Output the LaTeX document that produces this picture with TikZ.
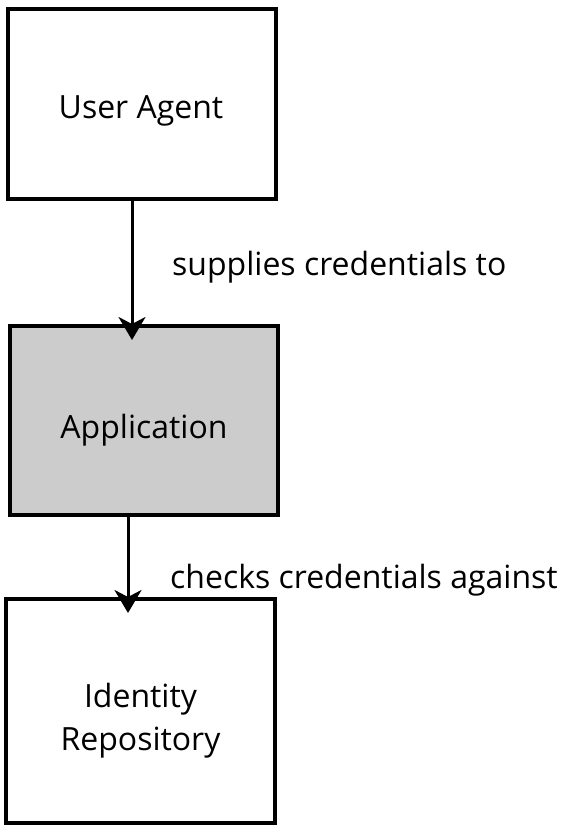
\documentclass[tikz,border=0pt]{standalone}
\usepackage{fontspec}
\setmainfont{Open Sans}
\usetikzlibrary{arrows.meta}
\begin{document}
\begin{tikzpicture}[x=1pt,y=-1pt,
  every node/.style={font=\fontsize{32}{43}\selectfont},
  box/.style={draw=black,line width=3.5pt,inner sep=0pt},
  txt/.style={inner sep=0pt,align=center},
  conn/.style={line width=3pt,-{Stealth[length=23pt,width=27pt,inset=7pt]},shorten >=-14pt},
  lbl/.style={anchor=base west,inner sep=0pt}]
\useasboundingbox (0,0) rectangle (563,825);
\node[box,minimum width=268pt,minimum height=190pt] (ua) at (142,104) {};
\node[box,fill=black!20,minimum width=268pt,minimum height=189pt] (app) at (144,420.5) {};
\node[box,minimum width=269pt,minimum height=224pt] (ir) at (140.5,711) {};
\node[txt,anchor=base] (uat) at (141,118) {User Agent};
\node[txt,anchor=base] (appt) at (144,438) {Application};
\node[txt] (irt) at (140.5,721) {Identity\\Repository};
\coordinate (a1s) at (132,199);
\coordinate (a1e) at (132,326);
\coordinate (a2s) at (128,515);
\coordinate (a2e) at (128,599);
\draw[conn] (a1s) -- (a1e);
\draw[conn] (a2s) -- (a2e);
\node[lbl] (l1) at (172,275) {supplies credentials to};
\node[lbl] (l2) at (170,588) {checks credentials against};
\end{tikzpicture}
\end{document}
